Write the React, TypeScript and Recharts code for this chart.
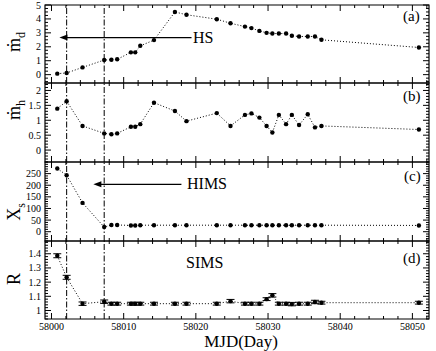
import React from 'react';
import { LineChart, Line, XAxis, YAxis, ReferenceLine, ReferenceArea, ErrorBar } from 'recharts';

// observation epochs (MJD) shared by all four panels
const mjd = [
  58000.8, 58002.1, 58004.3, 58007.3, 58008.3, 58009.1, 58011.0, 58011.6, 58012.3,
  58014.2, 58017.1, 58018.7, 58022.9, 58024.8, 58026.8, 58027.7, 58028.8, 58029.8,
  58030.6, 58031.5, 58032.5, 58033.3, 58034.3, 58035.5, 58036.5, 58037.4, 58050.9,
];
const mdotD = [
  0.07, 0.12, 0.52, 1.05, 1.07, 1.1, 1.6, 1.6, 2.07, 2.48, 4.5, 4.3, 3.98, 3.69,
  3.45, 3.34, 3.14, 3.0, 2.95, 2.95, 2.95, 2.79, 2.74, 2.74, 2.74, 2.5, 1.95,
];
const mdotH = [
  1.39, 1.64, 0.81, 0.56, 0.53, 0.56, 0.78, 0.78, 0.87, 1.59, 1.31, 0.97, 1.24, 0.81,
  1.18, 1.23, 1.09, 0.81, 0.59, 1.18, 0.87, 1.18, 0.84, 1.2, 0.76, 0.81, 0.69,
];
const xsVal = [
  272, 243, 124, 20, 29, 29, 27, 27, 28, 28, 28, 28, 28, 28, 28, 28, 28, 28, 28, 28,
  28, 28, 28, 28, 28, 28, 27,
];
const rVal = [
  1.386, 1.234, 1.048, 1.062, 1.048, 1.048, 1.048, 1.048, 1.048, 1.048, 1.048, 1.048,
  1.048, 1.066, 1.048, 1.048, 1.048, 1.08, 1.107, 1.048, 1.048, 1.045, 1.048, 1.048,
  1.06, 1.055, 1.055,
];
const rErr = [
  0.014, 0.014, 0.012, 0.012, 0.01, 0.01, 0.01, 0.01, 0.01, 0.01, 0.01, 0.01, 0.01,
  0.012, 0.01, 0.01, 0.01, 0.01, 0.012, 0.01, 0.01, 0.012, 0.01, 0.01, 0.012, 0.01, 0.01,
];

const xMajor = [58000, 58010, 58020, 58030, 58040, 58050];
const stateLines = [58002.1, 58007.3];
const X_DOMAIN: [number, number] = [57999.1, 58052.3];

const FONT = 'Liberation Serif, DejaVu Serif, serif';

const rows = mjd.map((t, i) => ({
  t,
  md: mdotD[i],
  mh: mdotH[i],
  xs: xsVal[i],
  r: rVal[i],
  rErr: rErr[i],
}));

const xTicks: number[] = [];
for (let v = 58000; v <= 58052; v += 2) xTicks.push(v);

function stepTicks(domain: [number, number], step: number) {
  const out: number[] = [];
  const start = Math.ceil(domain[0] / step);
  for (let k = start; k * step <= domain[1] + 1e-9; k++) {
    out.push(Math.round(k * step * 1000) / 1000);
  }
  return out;
}

const isIn = (list: number[], v: number) => list.some((m) => Math.abs(m - v) < 1e-6);

// ticks are drawn inward on all four sides of each panel
const xTickShape = (v: number, showLabel: boolean) => (p: any) => {
  const major = isIn(xMajor, v);
  const len = major ? 6 : 3;
  return (
    <g>
      <path
        d={`M${p.x1},${p.y1}V${p.y1 - len}M${p.x2},${p.y2}V${p.y2 + len}`}
        stroke="#000"
        strokeWidth={1}
        fill="none"
      />
      {showLabel && major && (
        <text x={p.x1} y={p.y1 + 11} textAnchor="middle" fontSize={10} fontFamily={FONT} fill="#000">
          {v}
        </text>
      )}
    </g>
  );
};

const yTickShape = (v: number, major: boolean) => (p: any) => {
  const len = major ? 6 : 3;
  return (
    <g>
      <path
        d={`M${p.x1},${p.y1}H${p.x1 + len}M${p.x2},${p.y2}H${p.x2 - len}`}
        stroke="#000"
        strokeWidth={1}
        fill="none"
      />
      {major && (
        <text x={p.x1 - 4} y={p.y1 + 3.5} textAnchor="end" fontSize={10} fontFamily={FONT} fill="#000">
          {String(v)}
        </text>
      )}
    </g>
  );
};

const Arrow = (p: any) => {
  const { x1, y1, x2, y2 } = p;
  return (
    <g>
      <line x1={x1} y1={y1} x2={x2 + 5} y2={y2} stroke="#000" strokeWidth={1.2} />
      <polygon points={`${x2},${y2} ${x2 + 8},${y2 - 3} ${x2 + 8},${y2 + 3}`} fill="#000" />
    </g>
  );
};

interface PanelProps {
  dataKey: string;
  top: number;
  bottom: number;
  domain: [number, number];
  majors: number[];
  minorStep: number;
  last?: boolean;
  arrow?: { from: number; to: number; y: number };
  errKey?: string;
}

function Panel({ dataKey, top, bottom, domain, majors, minorStep, last, arrow, errKey }: PanelProps) {
  const pad = 8;
  const bottomPad = last ? 32 : pad;
  const h = bottom - top + pad + bottomPad;
  const yTicks = Array.from(new Set([...stepTicks(domain, minorStep), ...majors])).sort((a, b) => a - b);
  return (
    <div style={{ position: 'absolute', left: 0, top: top - pad, width: 436, height: h }}>
      <LineChart
        width={436}
        height={h}
        data={rows}
        margin={{ top: pad, right: 7, bottom: bottomPad, left: 45 }}
      >
        <XAxis xAxisId="b" dataKey="t" type="number" domain={X_DOMAIN} allowDataOverflow hide />
        <YAxis yAxisId="l" type="number" domain={domain} allowDataOverflow hide />
        <ReferenceArea
          xAxisId="b"
          yAxisId="l"
          x1={X_DOMAIN[0]}
          x2={X_DOMAIN[1]}
          y1={domain[0]}
          y2={domain[1]}
          fill="none"
          fillOpacity={0}
          stroke="#000"
          strokeWidth={1.2}
          ifOverflow="visible"
        />
        {xTicks.map((v) => (
          <ReferenceLine
            key={'x' + v}
            xAxisId="b"
            yAxisId="l"
            ifOverflow="visible"
            segment={[
              { x: v, y: domain[0] },
              { x: v, y: domain[1] },
            ]}
            shape={xTickShape(v, !!last)}
          />
        ))}
        {yTicks.map((v) => (
          <ReferenceLine
            key={'y' + v}
            xAxisId="b"
            yAxisId="l"
            ifOverflow="visible"
            segment={[
              { x: X_DOMAIN[0], y: v },
              { x: X_DOMAIN[1], y: v },
            ]}
            shape={yTickShape(v, isIn(majors, v))}
          />
        ))}
        {stateLines.map((v) => (
          <ReferenceLine
            key={v}
            x={v}
            xAxisId="b"
            yAxisId="l"
            stroke="#000"
            strokeWidth={1}
            strokeDasharray="6 2 1.5 2"
          />
        ))}
        {arrow && (
          <ReferenceLine
            xAxisId="b"
            yAxisId="l"
            segment={[
              { x: arrow.from, y: arrow.y },
              { x: arrow.to, y: arrow.y },
            ]}
            shape={Arrow}
          />
        )}
        <Line
          xAxisId="b"
          yAxisId="l"
          dataKey={dataKey}
          stroke="#000"
          strokeWidth={1}
          strokeDasharray="1 2"
          dot={{ r: 2.2, fill: '#000', stroke: '#000', strokeWidth: 0 }}
          isAnimationActive={false}
        >
          {errKey && <ErrorBar dataKey={errKey} width={4} stroke="#000" strokeWidth={1} direction="y" />}
        </Line>
      </LineChart>
    </div>
  );
}

const textStyle: React.CSSProperties = {
  position: 'absolute',
  fontFamily: FONT,
  lineHeight: 1,
  color: '#000',
  whiteSpace: 'nowrap',
};

function YTitle({ x, y, children }: { x: number; y: number; children: React.ReactNode }) {
  return (
    <div
      style={{
        ...textStyle,
        left: x,
        top: y,
        fontSize: 18,
        transform: 'translate(-50%, -50%) rotate(-90deg)',
      }}
    >
      {children}
    </div>
  );
}

const subStyle: React.CSSProperties = { fontSize: 12, verticalAlign: 'sub', lineHeight: 0 };

export default function App() {
  return (
    <div style={{ position: 'absolute', left: 0, top: 0, width: 436, height: 351, background: '#fff', overflow: 'hidden' }}>
      <Panel dataKey="md" top={5} bottom={83} domain={[-0.6, 5]} majors={[0, 1, 2, 3, 4, 5]} minorStep={0.25}
        arrow={{ from: 58019.4, to: 58001.1, y: 2.66 }} />
      <Panel dataKey="mh" top={83} bottom={162} domain={[-0.4, 2.25]} majors={[0, 0.5, 1, 1.5, 2]} minorStep={0.1} />
      <Panel dataKey="xs" top={162} bottom={241} domain={[-40, 300]} majors={[0, 50, 100, 150, 200, 250]} minorStep={10}
        arrow={{ from: 58018.0, to: 58005.8, y: 204 }} />
      <Panel dataKey="r" top={241} bottom={319} domain={[0.94, 1.49]} majors={[1, 1.1, 1.2, 1.3, 1.4]} minorStep={0.02}
        last errKey="rErr" />

      <div style={{ ...textStyle, left: 193, top: 30, fontSize: 16 }}>HS</div>
      <div style={{ ...textStyle, left: 187, top: 176, fontSize: 16 }}>HIMS</div>
      <div style={{ ...textStyle, left: 186, top: 255, fontSize: 16 }}>SIMS</div>

      <div style={{ ...textStyle, left: 403, top: 8.5, fontSize: 15 }}>(a)</div>
      <div style={{ ...textStyle, left: 403, top: 88.5, fontSize: 15 }}>(b)</div>
      <div style={{ ...textStyle, left: 404, top: 168.5, fontSize: 15 }}>(c)</div>
      <div style={{ ...textStyle, left: 403, top: 250.5, fontSize: 15 }}>(d)</div>

      <YTitle x={14} y={42}>ṁ<span style={subStyle}>d</span></YTitle>
      <YTitle x={14} y={110}>ṁ<span style={subStyle}>h</span></YTitle>
      <YTitle x={14} y={212}>X<span style={subStyle}>s</span></YTitle>
      <YTitle x={14} y={279}>R</YTitle>

      <div style={{ ...textStyle, left: 241, top: 333, fontSize: 17, transform: 'translateX(-50%)' }}>MJD(Day)</div>
    </div>
  );
}
